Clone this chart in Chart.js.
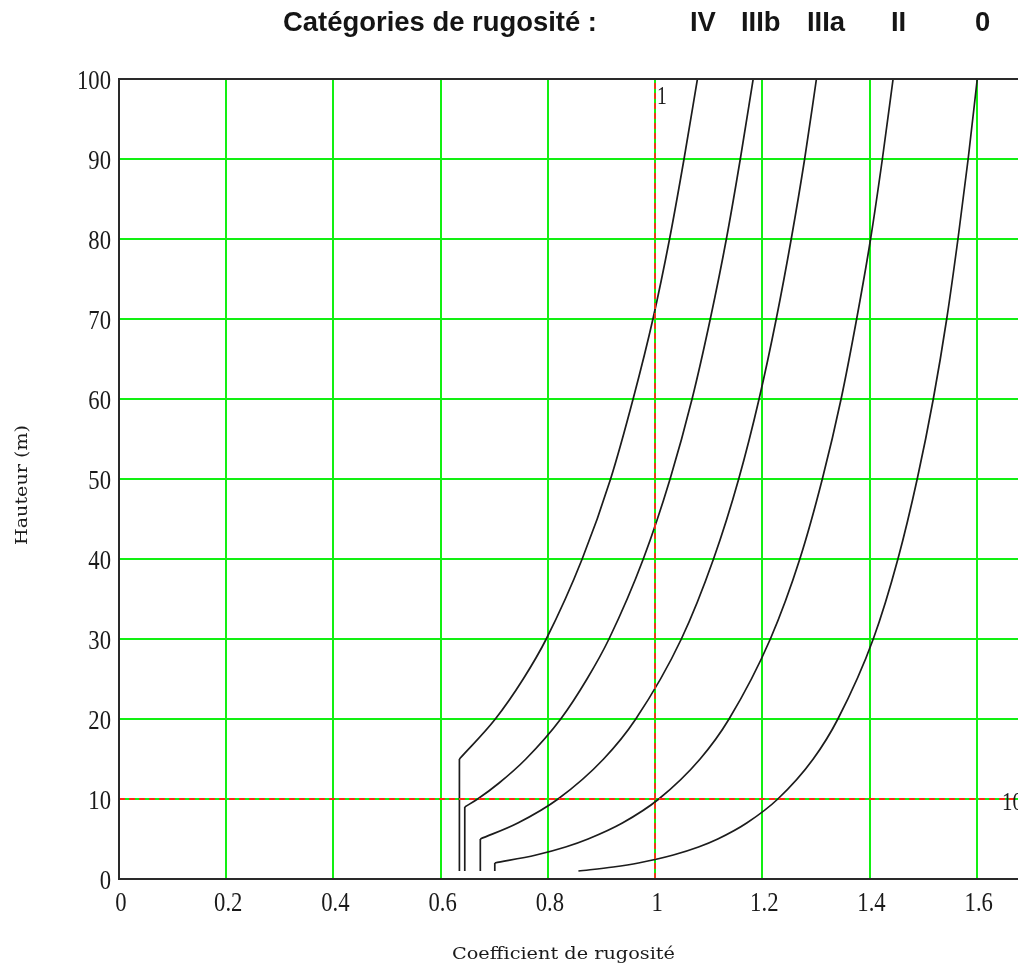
<!DOCTYPE html>
<html>
<head>
<meta charset="utf-8">
<script src="https://cdn.jsdelivr.net/npm/chart.js@4.4.1/dist/chart.umd.min.js"></script>
<style>
html,body{margin:0;padding:0;background:#fff;}
#wrap{position:relative;width:1018px;height:976px;}
</style>
</head>
<body>
<div id="wrap"><canvas id="c" width="1018" height="976"></canvas></div>
<script>
// Roughness categories (legend order in header)
const categoryLabels = ['IV', 'IIIb', 'IIIa', 'II', '0'];
const headerTitle = 'Catégories de rugosité :';
const xTitle = 'Coefficient de rugosité';
const yTitle = 'Hauteur (m)';

// Heights (m) and roughness coefficient
const hIV   = [1, 15, 20, 25, 30, 40, 50, 60, 70, 80, 90, 100];
const cIV   = [0.635, 0.635, 0.702, 0.754, 0.797, 0.864, 0.917, 0.959, 0.996, 1.027, 1.054, 1.079];

const hIIIb = [1, 9, 10, 12, 15, 20, 25, 30, 40, 50, 60, 70, 80, 90, 100];
const cIIIb = [0.645, 0.645, 0.669, 0.709, 0.759, 0.824, 0.873, 0.914, 0.978, 1.028, 1.069, 1.103, 1.133, 1.159, 1.183];

const hIIIa = [1, 5, 7, 10, 15, 20, 30, 40, 50, 60, 70, 80, 90, 100];
const cIIIa = [0.674, 0.674, 0.744, 0.819, 0.904, 0.964, 1.049, 1.109, 1.156, 1.194, 1.226, 1.254, 1.279, 1.301];

const hII   = [1, 2, 3, 4, 5, 7, 10, 15, 20, 30, 40, 50, 60, 70, 80, 90, 100];
const cII   = [0.701, 0.701, 0.778, 0.833, 0.875, 0.939, 1.007, 1.084, 1.138, 1.215, 1.270, 1.312, 1.347, 1.376, 1.402, 1.424, 1.444];

const h0    = [1, 1.5, 2, 3, 4, 5, 7, 10, 15, 20, 30, 40, 50, 60, 70, 80, 90, 100];
const c0    = [0.857, 0.922, 0.969, 1.034, 1.081, 1.117, 1.171, 1.229, 1.295, 1.341, 1.407, 1.453, 1.489, 1.519, 1.544, 1.565, 1.584, 1.601];

// Reference markers (dashed red)
const markerX = 1;
const markerY = 10;
const markerXLabel = '1';
const markerYLabel = '10';

// Axes
const xMin = 0, xMax = 1.677, xStep = 0.2;
const yMin = 0, yMax = 100, yStep = 10;

const series = [[hIV, cIV], [hIIIb, cIIIb], [hIIIa, cIIIa], [hII, cII], [h0, c0]];
const toPts = (h, c) => h.map((y, i) => ({x: c[i], y: y}));

const CURVE = '#1c1c1c';
const curveDatasets = [];
series.forEach((s, i) => {
  const pts = toPts(s[0], s[1]);
  let start = 0;
  if (pts.length > 1 && pts[0].x === pts[1].x) {
    curveDatasets.push({label: categoryLabels[i] + ' min', data: pts.slice(0, 2), showLine: true,
      borderColor: CURVE, borderWidth: 1.7, pointRadius: 0, tension: 0, fill: false});
    start = 1;
  }
  curveDatasets.push({label: categoryLabels[i], data: pts.slice(start), showLine: true,
    borderColor: CURVE, borderWidth: 1.7, pointRadius: 0, cubicInterpolationMode: 'monotone', fill: false});
});

const RED = '#ff2a1a';
const markerDatasets = [
  {label: 'mx', data: [{x: markerX, y: yMin}, {x: markerX, y: yMax}], showLine: true,
   borderColor: RED, borderWidth: 1.8, borderDash: [6, 4], pointRadius: 0, fill: false},
  {label: 'my', data: [{x: xMin, y: markerY}, {x: xMax, y: markerY}], showLine: true,
   borderColor: RED, borderWidth: 1.8, borderDash: [6, 4], pointRadius: 0, fill: false}
];

// draw text horizontally scaled
function drawScaled(ctx, text, x, y, sx, align) {
  const w = ctx.measureText(text).width * sx;
  let lx = x;
  if (align === 'center') lx = x - w / 2;
  else if (align === 'right') lx = x - w;
  ctx.save();
  ctx.translate(lx, y);
  ctx.scale(sx, 1);
  ctx.textAlign = 'left';
  ctx.fillText(text, 0, 0);
  ctx.restore();
}
function drawFit(ctx, text, x, y, width) {
  const sx = width / ctx.measureText(text).width;
  drawScaled(ctx, text, x, y, sx, 'left');
  return sx;
}

const TICKFONT = '27px "Liberation Serif", "Times New Roman", serif';
const TICKSX = 0.84;

const textPlugin = {
  id: 'texts',
  afterDraw(chart) {
    const ctx = chart.ctx;
    const xs = chart.scales.x, ys = chart.scales.y, a = chart.chartArea;
    ctx.save();
    ctx.fillStyle = '#151515';
    // header
    ctx.font = 'bold 28px "Liberation Sans", Arial, sans-serif';
    ctx.textBaseline = 'alphabetic';
    const hsx = drawFit(ctx, headerTitle, 283, 31, 314);
    const labX = [690, 741, 807, 891, 975];
    categoryLabels.forEach((t, i) => drawScaled(ctx, t, labX[i], 31, hsx, 'left'));

    // tick labels through the scales
    ctx.font = TICKFONT;
    ctx.fillStyle = '#1a1a1a';
    ctx.textBaseline = 'middle';
    ys.ticks.forEach(t => {
      drawScaled(ctx, String(t.value), a.left - 8, ys.getPixelForValue(t.value) + 3, TICKSX, 'right');
    });
    xs.ticks.forEach(t => {
      const v = Math.round(t.value * 10) / 10;
      drawScaled(ctx, String(v), xs.getPixelForValue(t.value) + 2, a.bottom + 25, TICKSX, 'center');
    });

    // marker labels
    ctx.font = '26px "Liberation Serif", serif';
    ctx.textBaseline = 'middle';
    drawScaled(ctx, markerXLabel, xs.getPixelForValue(markerX) + 2, a.top + 18, 0.75, 'left');
    drawScaled(ctx, markerYLabel, xs.getPixelForValue(xMax) - 16, ys.getPixelForValue(markerY) + 4, 0.8, 'left');

    // axis titles
    ctx.font = '16px "DejaVu Serif", serif';
    ctx.textBaseline = 'alphabetic';
    drawFit(ctx, xTitle, 452, 959, 223);
    ctx.save();
    ctx.translate(27, 545);
    ctx.rotate(-Math.PI / 2);
    drawFit(ctx, yTitle, 0, 0, 120);
    ctx.restore();
    ctx.restore();
  }
};

const frame = {
  id: 'frame',
  afterDatasetsDraw(chart) {
    const ctx = chart.ctx, a = chart.chartArea;
    ctx.save();
    ctx.strokeStyle = '#2a2a2a';
    ctx.lineWidth = 2;
    ctx.beginPath();
    ctx.moveTo(a.right + 2, a.top);
    ctx.lineTo(a.left, a.top);
    ctx.lineTo(a.left, a.bottom);
    ctx.lineTo(a.right + 2, a.bottom);
    ctx.stroke();
    ctx.restore();
  }
};

new Chart(document.getElementById('c'), {
  type: 'scatter',
  data: {datasets: [...markerDatasets, ...curveDatasets]},
  options: {
    responsive: false,
    animation: false,
    layout: {padding: {top: 79, right: 0, left: 0, bottom: 0}},
    plugins: {legend: {display: false}, tooltip: {enabled: false}, title: {display: false}},
    scales: {
      x: {
        type: 'linear', min: xMin, max: xMax,
        afterFit(s) { s.height = 97; },
        afterBuildTicks(s) {
          const t = [];
          for (let i = 0; xMin + i * xStep <= xMax + 1e-9; i++) t.push({value: Math.round((xMin + i * xStep) * 10) / 10});
          s.ticks = t;
        },
        grid: {color: '#12f012', lineWidth: 2, drawTicks: false},
        border: {display: false},
        ticks: {display: false}
      },
      y: {
        type: 'linear', min: yMin, max: yMax,
        afterFit(s) { s.width = 119; },
        grid: {color: '#12f012', lineWidth: 2, drawTicks: false},
        border: {display: false},
        ticks: {stepSize: yStep, display: false}
      }
    }
  },
  plugins: [textPlugin, frame]
});
</script>
</body>
</html>
